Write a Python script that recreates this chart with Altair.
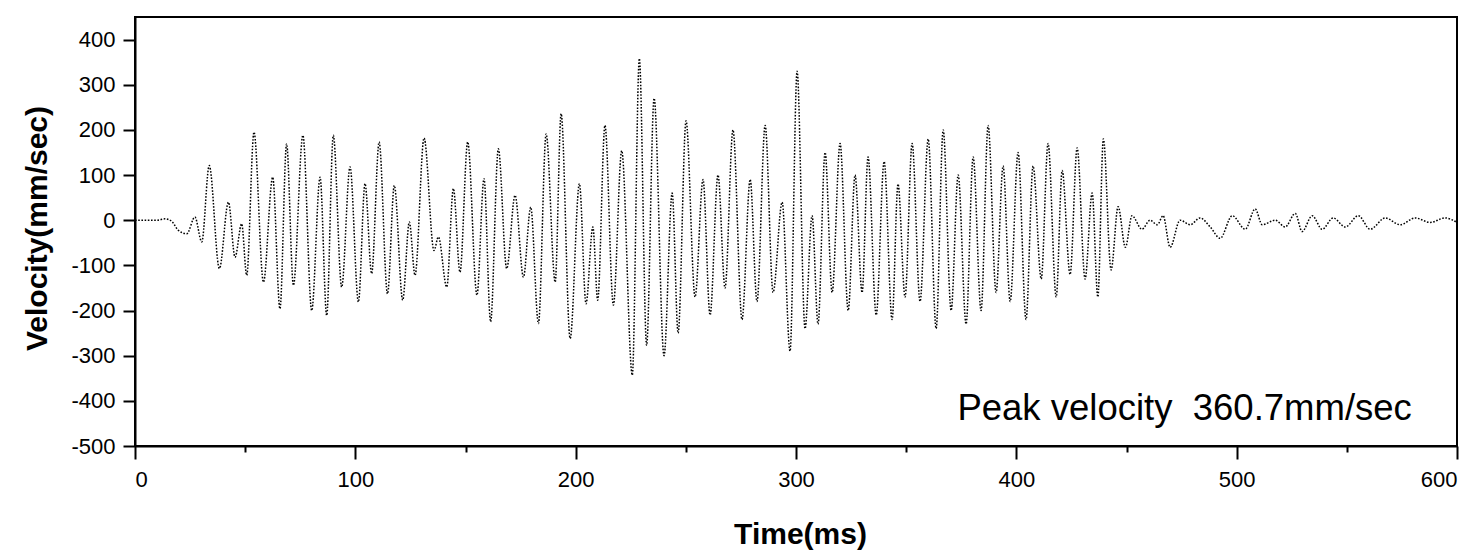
import altair as alt
import pandas as pd

# time (ms) of turning points
time_ms = [
    0, 10.0, 13.6, 16.6, 19.6, 23.5, 27.2, 30.3, 33.7, 38.3, 42.4, 45.4, 48.4, 50.7,
    54.0, 58.3, 62.5, 65.8, 68.8, 71.9, 76.2, 80.2, 84.0, 87.0, 90.0, 93.8,
    97.6, 101.4, 104.4, 107.4, 110.8, 114.6, 117.7, 121.5, 124.5, 127.1, 131.2,
    135.7, 137.7, 141.5, 144.5, 147.5, 151.0, 155.2, 158.4, 161.4, 164.9, 168.7,
    172.5, 176.3, 179.6, 183.1, 186.6, 190.7, 193.4, 197.5, 201.7, 204.7, 207.8,
    210.0, 213.3, 217.1, 220.9, 225.7, 228.9, 232.2,
    235.6, 240.1, 243.8, 246.5, 250.1, 254.2, 257.8, 261.0, 264.6, 267.8, 271.4,
    275.5, 279.2, 282.3, 286.0, 289.6, 293.7, 297.3, 300.5, 304.1, 307.3, 310.0,
    313.2, 316.4, 320.0, 323.7, 326.8, 330.0, 332.7, 336.4, 340.0, 343.6, 346.3,
    349.5, 352.7, 356.3, 360.0, 363.6, 366.8, 370.4, 373.6, 377.2, 380.4, 384.0,
    387.2, 390.8, 394.0, 397.2, 400.8, 404.4, 407.6, 411.3, 414.4, 418.1, 420.8,
    424.4, 427.6, 431.2, 434.4, 437.0, 439.5, 443.0, 446.2, 449.5, 452.5, 457.0,
    460.7, 464.0, 466.6, 469.8, 474.3, 478.9, 483.4, 488.0, 492.5, 498.0, 503.9,
    508.4, 511.6, 517.5, 522.0, 526.6, 529.7, 534.3, 538.8, 543.8, 549.3, 555.2,
    560.6, 567.4, 574.2, 581.0, 587.8, 594.6, 600.0,
]

# velocity (mm/sec) at those points
velocity = [
    0, 0, 3, -2, -22, -30, 7, -48, 121, -107, 40, -82, -8, -122,
    195, -137, 95, -196, 169, -144, 188, -200, 95, -211, 188, -148,
    118, -181, 81, -118, 173, -163, 77, -177, -4, -122, 182,
    -67, -37, -148, 70, -115, 173, -166, 92, -225, 158, -107,
    55, -126, 29, -229, 191, -137, 236, -262, 81, -185, -15,
    -177, 210, -188, 154, -343, 358, -277,
    270, -300, 60, -250, 220, -170, 90, -210, 100, -150, 200,
    -220, 90, -180, 210, -160, 40, -290, 330, -240, 10, -230,
    150, -160, 170, -200, 100, -160, 140, -210, 130, -220, 80,
    -170, 170, -180, 180, -240, 200, -200, 100, -230, 140, -200,
    210, -160, 120, -180, 150, -220, 120, -130, 170, -170, 110,
    -120, 160, -130, 60, -170, 180, -110, 30, -60, 10, -20,
    0, -10, 10, -60, 0, -10, 5, -15, -40, 10, -20,
    25, -10, 0, -15, 15, -25, 10, -20, 5, -15, 10,
    -20, 5, -10, 5, -5, 5, -5,
]

annotation = ["Peak velocity\u00a0 360.7mm/sec"]
ann_time = [579.5]
ann_vel = [-442]

df = pd.DataFrame({"t": time_ms, "v": velocity})
ann = pd.DataFrame({"t": ann_time, "v": ann_vel, "label": annotation})

x_scale = alt.Scale(domain=[0, 600], nice=False, zero=False)
y_scale = alt.Scale(domain=[-500, 450], nice=False, zero=False)

label_expr = (
    "datum.value % 100 === 0 ? "
    "(datum.value < 0 ? '-' + (-datum.value) : '' + datum.value) : ''"
)

x_axis = alt.Axis(
    title="Time(ms)",
    values=list(range(0, 601, 50)),
    labelExpr=label_expr,
    tickSize={"condition": {"test": "datum.value % 100 === 0", "value": 13}, "value": 6},
    grid=False,
    labelPadding=10,
    titleX=665,
    titleY=88,
    titleBaseline="middle",
)
y_axis = alt.Axis(
    title="Velocity(mm/sec)",
    values=list(range(-500, 451, 50)),
    labelExpr=label_expr,
    tickSize={"condition": {"test": "datum.value % 100 === 0", "value": 12}, "value": 7},
    grid=False,
    labelPadding=8,
    titleX=-98,
    titleY=211,
    titleBaseline="middle",
)

line = alt.Chart(df).mark_line(
    color="black", strokeWidth=1.5, strokeDash=[1.6, 1.6], interpolate="monotone"
).encode(
    x=alt.X("t:Q", scale=x_scale, axis=x_axis),
    y=alt.Y("v:Q", scale=y_scale, axis=y_axis),
)

text = alt.Chart(ann).mark_text(
    align="right", baseline="alphabetic", font="Liberation Sans", fontSize=36.5, color="black"
).encode(
    x=alt.X("t:Q", scale=x_scale),
    y=alt.Y("v:Q", scale=y_scale),
    text="label:N",
)

chart = (
    alt.layer(line, text)
    .properties(
        width=1322,
        height=429,
        autosize=alt.AutoSizeParams(type="none"),
        padding={"left": 135, "top": 17, "right": 20, "bottom": 105},
        background="white",
    )
    .configure_view(stroke="black", strokeWidth=2)
    .configure_axis(
        domainColor="black",
        domainWidth=2,
        tickColor="black",
        tickWidth=2,
        labelFont="Liberation Sans",
        labelFontSize=22,
        labelColor="black",
        titleFont="Liberation Sans",
        titleFontWeight="bold",
        titleFontSize=30,
        titleColor="black",
    )
)

chart.save("out.html", embed_options={"renderer": "svg", "actions": False})
